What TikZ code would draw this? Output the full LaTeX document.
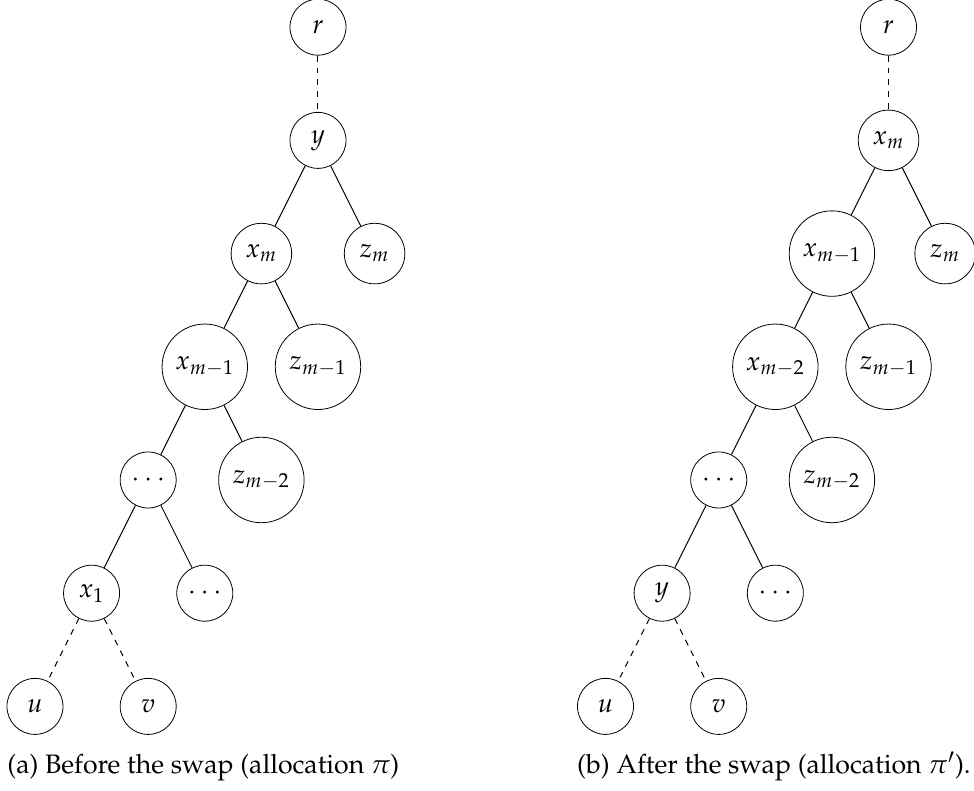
\documentclass[tikz,border=0pt]{standalone}
\usepackage{mathpazo}
\usepackage[T1]{fontenc}
\begin{document}
\begin{tikzpicture}[x=1cm,y=1cm,
  every node/.style={font=\fontsize{13.4}{16}\selectfont},
  nd/.style={circle,draw,inner sep=0pt,minimum size=0.99cm},
  mid/.style={nd,minimum size=1.07cm},
  big/.style={nd,minimum size=1.51cm},
  ln/.style={line width=0.5pt},
  dln/.style={line width=0.5pt,dashed},
  captxt/.style={anchor=base west,inner sep=0pt}]
\useasboundingbox (0,0) rectangle (17.208,-13.958);
\def\L{5.618}
\def\R{15.698}
% left tree
\node[nd]  (ar)  at (\L,-0.48) {$r$};
\node[nd]  (ay)  at (\L,-2.48) {$y$};
\node[mid] (axm) at ({\L-1},-4.48) {$x_m$};
\node[mid] (azm) at ({\L+1},-4.48) {$z_m$};
\node[big] (axm1) at ({\L-2},-6.48) {$x_{m-1}$};
\node[big] (azm1) at (\L,-6.48) {$z_{m-1}$};
\node[nd]  (ad1) at ({\L-3},-8.48) {$\cdots$};
\node[big] (azm2) at ({\L-1},-8.48) {$z_{m-2}$};
\node[nd]  (ax1) at ({\L-4},-10.48) {$x_1$};
\node[nd]  (ad2) at ({\L-2},-10.48) {$\cdots$};
\node[nd]  (au)  at ({\L-5},-12.48) {$u$};
\node[nd]  (av)  at ({\L-3},-12.48) {$v$};
\draw[dln] (ar) -- (ay);
\draw[ln] (ay) -- (axm);
\draw[ln] (ay) -- (azm);
\draw[ln] (axm) -- (axm1);
\draw[ln] (axm) -- (azm1);
\draw[ln] (axm1) -- (ad1);
\draw[ln] (axm1) -- (azm2);
\draw[ln] (ad1) -- (ax1);
\draw[ln] (ad1) -- (ad2);
\draw[dln] (ax1) -- (au);
\draw[dln] (ax1) -- (av);
% right tree
\node[nd]  (br)  at (\R,-0.48) {$r$};
\node[mid] (bxm) at (\R,-2.48) {$x_m$};
\node[big] (bxm1) at ({\R-1},-4.48) {$x_{m-1}$};
\node[mid] (bzm) at ({\R+1},-4.48) {$z_m$};
\node[big] (bxm2) at ({\R-2},-6.48) {$x_{m-2}$};
\node[big] (bzm1) at (\R,-6.48) {$z_{m-1}$};
\node[nd]  (bd1) at ({\R-3},-8.48) {$\cdots$};
\node[big] (bzm2) at ({\R-1},-8.48) {$z_{m-2}$};
\node[nd]  (by)  at ({\R-4},-10.48) {$y$};
\node[nd]  (bd2) at ({\R-2},-10.48) {$\cdots$};
\node[nd]  (bu)  at ({\R-5},-12.48) {$u$};
\node[nd]  (bv)  at ({\R-3},-12.48) {$v$};
\draw[dln] (br) -- (bxm);
\draw[ln] (bxm) -- (bxm1);
\draw[ln] (bxm) -- (bzm);
\draw[ln] (bxm1) -- (bxm2);
\draw[ln] (bxm1) -- (bzm1);
\draw[ln] (bxm2) -- (bd1);
\draw[ln] (bxm2) -- (bzm2);
\draw[ln] (bd1) -- (by);
\draw[ln] (bd1) -- (bd2);
\draw[dln] (by) -- (bu);
\draw[dln] (by) -- (bv);
% captions
\node[captxt] (capa) at (0.124,-13.657) {(a) Before the swap (allocation $\pi$)};
\node[captxt] (capb) at (10.19,-13.657) {(b) After the swap (allocation $\pi'$).};
\end{tikzpicture}
\end{document}
